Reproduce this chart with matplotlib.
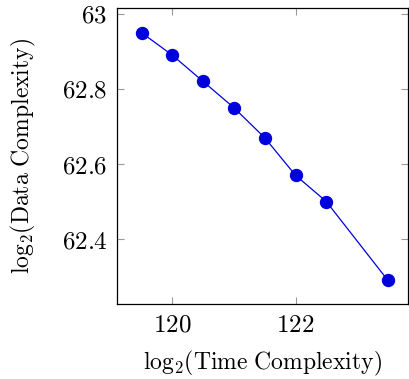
import numpy as np
import matplotlib
matplotlib.use('Agg')
import matplotlib.pyplot as plt
from matplotlib.ticker import FuncFormatter

# log2 time vs log2 data complexity
time_c = [119.5, 120.0, 120.5, 121.0, 121.5, 122.0, 122.5, 123.5]
data_c = [62.95, 62.89, 62.82, 62.75, 62.67, 62.57, 62.50, 62.29]
xticks = [120, 122]
yticks = [62.4, 62.6, 62.8, 63.0]

plt.rcParams['mathtext.fontset'] = 'cm'
plt.rcParams['font.family'] = 'serif'
plt.rcParams['font.serif'] = ['DejaVu Serif']

fig = plt.figure(figsize=(4.09, 3.79), dpi=100)
ax = fig.add_axes([0.286, 0.198, 0.712, 0.781])
ax.plot(time_c, data_c, color='#0000dd', lw=0.9, marker='o', ms=8.6)

ax.set_xlim(119.1, 123.83)
ax.set_ylim(62.227, 63.016)
ax.set_xticks(xticks)
ax.set_yticks(yticks)
fmt = FuncFormatter(lambda v, p: '$%g$' % round(v, 2))
ax.xaxis.set_major_formatter(fmt)
ax.yaxis.set_major_formatter(fmt)
ax.tick_params(direction='in', top=True, right=True, length=5, width=0.8,
               color='#999999', labelsize=18, pad=7)
for s in ax.spines.values():
    s.set_linewidth(0.9)

ax.set_xlabel(r'$\mathrm{log}_2\mathrm{(Time\ Complexity)}$', fontsize=17, labelpad=9)
ax.set_ylabel(r'$\mathrm{log}_2\mathrm{(Data\ Complexity)}$', fontsize=17, labelpad=17)

fig.savefig('out.png', dpi=100)
